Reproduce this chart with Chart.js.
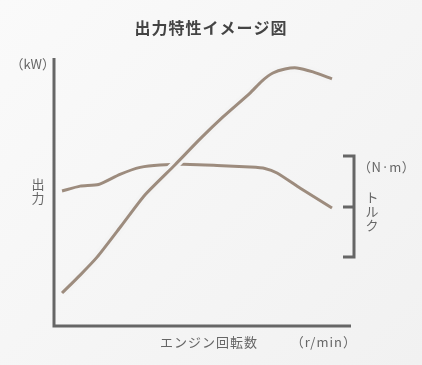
<!DOCTYPE html>
<html>
<head>
<meta charset="utf-8">
<script src="https://cdn.jsdelivr.net/npm/chart.js@4/dist/chart.umd.min.js"></script>
<style>
  html, body { margin: 0; padding: 0; }
  body { width: 422px; height: 365px; background: linear-gradient(135deg, #fafafa 0%, #f1f1f1 100%); overflow: hidden; }
  #wrap { position: relative; width: 422px; height: 365px; }
</style>
</head>
<body>
<div id="wrap"><canvas id="myChart" width="422" height="365"></canvas></div>
<script>
// engine speed positions (arbitrary units, axis has no numbers)
const powerRpm = [2.7, 8.8, 14.5, 22.6, 30.6, 40.7, 49.2, 56.9, 66.0, 70.0, 73.7, 77.8, 81.8, 87.2, 93.6];
const powerKw = [12.3, 19.0, 25.7, 37.3, 48.9, 60.1, 69.8, 78.0, 86.9, 91.4, 94.4, 95.9, 96.3, 94.8, 92.2];

const torqueRpm = [2.7, 8.8, 15.0, 22.2, 29.0, 35.7, 45.8, 54.9, 66.0, 71.0, 75.1, 82.8, 93.6];
const torqueNm = [50.4, 52.2, 52.8, 56.6, 59.2, 60.1, 60.3, 59.9, 59.3, 58.8, 57.1, 51.5, 44.0];

const titleText = '出力特性イメージ図';
const xLabel = 'エンジン回転数';
const xUnit = '（r/min）';
const powerLabel = '出力';
const powerUnit = '（kW）';
const torqueLabel = 'トルク';
const torqueUnit = '（N·m）';

const lineColor = '#9d8c7e';
const axisColor = '#666666';
const textColor = '#666666';
const jpFont = '"Noto Sans CJK JP", "Noto Sans", sans-serif';

const toPoints = (xs, ys) => xs.map((x, i) => ({ x: x, y: ys[i] }));

// axes, bracket and all labels
const decorations = {
    id: 'decorations',
    beforeDatasetsDraw(chart) {
        const ctx = chart.ctx;
        const a = chart.chartArea;
        ctx.save();
        ctx.strokeStyle = axisColor;
        ctx.lineWidth = 3;
        ctx.beginPath();
        ctx.moveTo(a.left, a.top);
        ctx.lineTo(a.left, a.bottom);
        ctx.lineTo(a.right, a.bottom);
        ctx.stroke();

        // torque bracket on the right
        const y = chart.scales.y;
        const bx = a.right + 3;
        ctx.beginPath();
        ctx.moveTo(bx - 11, y.getPixelForValue(63.4));
        ctx.lineTo(bx, y.getPixelForValue(63.4));
        ctx.lineTo(bx, y.getPixelForValue(25.7));
        ctx.lineTo(bx - 11, y.getPixelForValue(25.7));
        ctx.moveTo(bx - 11, y.getPixelForValue(44.4));
        ctx.lineTo(bx, y.getPixelForValue(44.4));
        ctx.stroke();
        ctx.restore();
    },
    afterDraw(chart) {
        const ctx = chart.ctx;
        ctx.save();
        ctx.textBaseline = 'middle';

        ctx.fillStyle = '#444444';
        ctx.font = 'bold 16px ' + jpFont;
        ctx.textAlign = 'center';
        ctx.letterSpacing = '1px';
        ctx.fillText(titleText, 211, 28);

        ctx.fillStyle = textColor;
        ctx.font = '13px ' + jpFont;
        ctx.letterSpacing = '1px';
        ctx.textAlign = 'left';
        ctx.fillText(xLabel, 160, 342);
        ctx.textAlign = 'right';
        ctx.fillText(xUnit, 357, 342);
        ctx.letterSpacing = '0px';
        ctx.fillText(powerUnit, 55, 64);
        ctx.textAlign = 'left';
        ctx.letterSpacing = '0.5px';
        ctx.fillText(torqueUnit, 358, 167);

        ctx.letterSpacing = '0px';
        ctx.textAlign = 'center';
        [...powerLabel].forEach((c, i) => ctx.fillText(c, 38, 184 + i * 14));
        [...torqueLabel].forEach((c, i) => ctx.fillText(c, 372, 197 + i * 14));
        ctx.restore();
    }
};

const ctx = document.getElementById('myChart').getContext('2d');
const myChart = new Chart(ctx, {
    type: 'line',
    data: {
        datasets: [{
            label: 'power',
            data: toPoints(powerRpm, powerKw),
            borderColor: lineColor,
            borderWidth: 3,
            order: 1
        }, {
            // background coloured halo so the torque line breaks under the power line
            label: 'power-halo',
            data: toPoints(powerRpm, powerKw),
            borderColor: '#f4f4f4',
            borderWidth: 9,
            order: 2
        }, {
            label: 'torque',
            data: toPoints(torqueRpm, torqueNm),
            borderColor: lineColor,
            borderWidth: 3,
            order: 3
        }]
    },
    options: {
        responsive: false,
        animation: false,
        layout: { padding: { left: 54, right: 71, top: 58, bottom: 39 } },
        elements: {
            point: { radius: 0 },
            line: { tension: 0.2, fill: false, borderCapStyle: 'butt' }
        },
        plugins: { legend: { display: false }, tooltip: { enabled: false }, title: { display: false } },
        scales: {
            x: { type: 'linear', min: 0, max: 100, display: false },
            y: { min: 0, max: 100, display: false }
        }
    },
    plugins: [decorations]
});
</script>
</body>
</html>
